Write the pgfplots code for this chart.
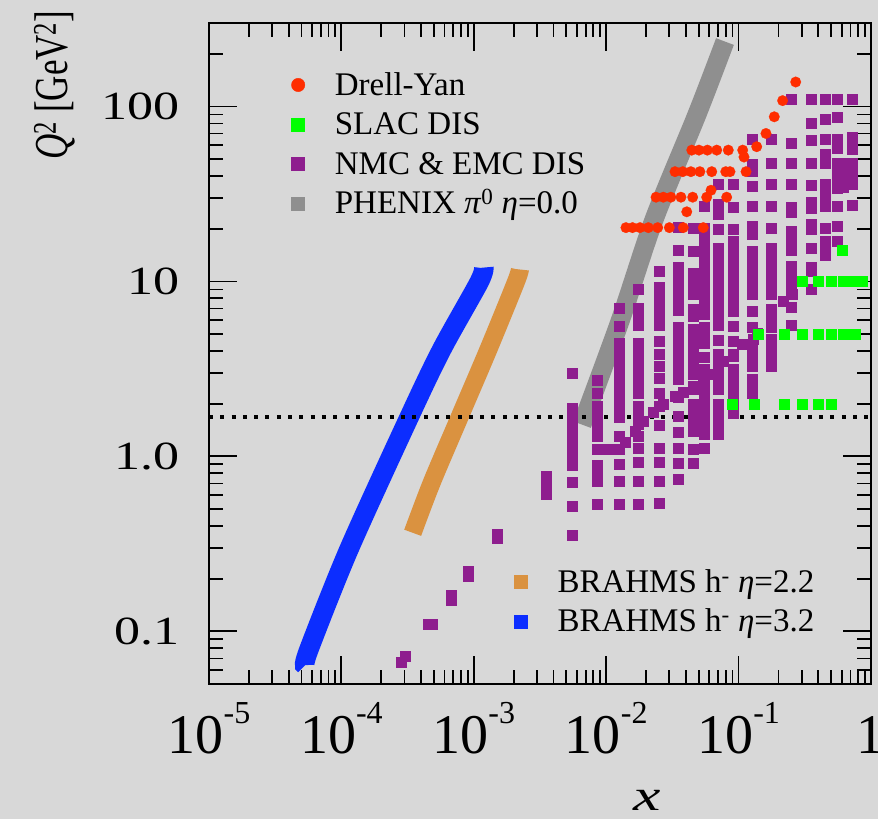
\documentclass[border=0pt]{standalone}
\usepackage{fontspec}
\setmainfont{Liberation Serif}
\usepackage{graphicx}
\usepackage{pgfplots}
\pgfplotsset{compat=1.18}

\definecolor{bgcol}{RGB}{216,216,216}
\definecolor{dyred}{RGB}{255,45,0}
\definecolor{slacgreen}{RGB}{0,255,0}
\definecolor{nmcpurple}{RGB}{142,30,142}
\definecolor{phgray}{RGB}{143,143,143}
\definecolor{brorange}{RGB}{218,146,64}
\definecolor{brblue}{RGB}{12,45,255}

\newcommand{\tsup}[1]{\raisebox{30pt}{\fontsize{32}{32}\selectfont #1}}

\begin{document}
\begin{tikzpicture}
\fill[bgcol] (-209pt,-135pt) rectangle (669pt,684pt);

% ---------- BRAHMS bands (own legend, lower right) ----------
\begin{axis}[xmode=log, ymode=log,
  xmin=1e-5, xmax=1, ymin=0.05, ymax=300,
  scale only axis, width=662pt, height=661pt,
  at={(0pt,0pt)}, anchor=south west,
  hide axis,
  legend cell align=left,
  legend style={draw=none, fill=none, inner sep=0pt, outer sep=0pt,
    font=\fontsize{33}{33}\selectfont,
    nodes={inner sep=0pt, text height=26pt, text depth=5pt},
    row sep=8.5pt,
    /tikz/every odd column/.append style={column sep=30pt},
    at={(axis description cs:0.4615,0.1778)}, anchor=north west},
]
\addplot[brorange, line width=18pt, smooth, no marks, forget plot] coordinates {
(3.455e-4,0.366) (4.81e-4,0.708) (7.87e-4,1.70) (1.29e-3,4.09) (2.07e-3,9.83) (2.23e-3,11.7)};
\addplot[brblue, line width=19.5pt, smooth, no marks, forget plot] coordinates {
(5.31e-5,0.0639) (5.69e-5,0.0789) (1.14e-4,0.294) (3.28e-4,1.70) (5.73e-4,4.09) (1.094e-3,9.87) (1.19e-3,12.0)};
\addlegendimage{only marks, mark=square*, color=brorange, mark size=6.5pt}
\addlegendentry{BRAHMS h\textsuperscript{-} \textit{η}=2.2}
\addlegendimage{only marks, mark=square*, color=brblue, mark size=6.5pt}
\addlegendentry{BRAHMS h\textsuperscript{-} \textit{η}=3.2}
\end{axis}

% ---------- main axis ----------
\begin{axis}[xmode=log, ymode=log,
  xmin=1e-5, xmax=1, ymin=0.05, ymax=300,
  scale only axis, width=662pt, height=661pt,
  at={(0pt,0pt)}, anchor=south west,
  legend cell align=left,
  legend style={draw=none, fill=none, inner sep=0pt, outer sep=0pt,
    font=\fontsize{33}{33}\selectfont,
    nodes={inner sep=0pt, text height=26pt, text depth=5pt},
    row sep=8.5pt,
    /tikz/every odd column/.append style={column sep=30pt},
    at={(axis description cs:0.1246,0.9297)}, anchor=north west},
  axis line style={line width=1.8pt, black},
  tick style={line width=1.8pt, black},
  tick align=inside, xtick pos=both, ytick pos=both,
  major tick length=28pt, minor tick length=14pt,
  xtick={1e-5,1e-4,1e-3,1e-2,1e-1,1},
  xticklabels={10\tsup{-5},10\tsup{-4},10\tsup{-3},10\tsup{-2},10\tsup{-1},1},
  minor xtick={2e-5,3e-5,4e-5,5e-5,6e-5,7e-5,8e-5,9e-5,2e-4,3e-4,4e-4,5e-4,6e-4,7e-4,8e-4,9e-4,0.002,0.003,0.004,0.005,0.006,0.007,0.008,0.009,0.02,0.03,0.04,0.05,0.06,0.07,0.08,0.09,0.2,0.3,0.4,0.5,0.6,0.7,0.8,0.9},
  ytick={0.1,1,10,100},
  yticklabels={\scalebox{1.3}[1]{0.1},\scalebox{1.3}[1]{1.0},\scalebox{1.3}[1]{10},\scalebox{1.3}[1]{100}},
  minor ytick={0.06,0.07,0.08,0.09,0.2,0.3,0.4,0.5,0.6,0.7,0.8,0.9,2,3,4,5,6,7,8,9,20,30,40,50,60,70,80,90,200},
  xticklabel style={font=\fontsize{56}{56}\selectfont, inner sep=0pt, text height=52pt, text depth=0pt, anchor=north, yshift=-17pt},
  yticklabel style={font=\fontsize{40}{40}\selectfont, inner sep=0pt, anchor=east, xshift=-29pt},
  xlabel={\scalebox{1.4}[1]{\textit{x}}},
  xlabel style={font=\fontsize{44}{44}\selectfont, at={(axis description cs:0.6616,-0.1755)}, anchor=center, inner sep=0pt},
  ylabel={\scalebox{1}[1.35]{\textit{Q}\textsuperscript{2} [GeV\textsuperscript{2}]}},
  ylabel style={font=\fontsize{35}{35}\selectfont, at={(axis description cs:-0.233,0.906)}, anchor=center, inner sep=0pt},
]
% PHENIX band
\addplot[phgray, line width=19pt, smooth, no marks, forget plot] coordinates {
(0.00656,1.52) (0.0127,5.91) (0.0230,22.6) (0.0485,90.0) (0.0789,235)};

% NMC & EMC DIS
\addplot[only marks, mark=square*, color=nmcpurple, mark size=5pt, mark options={line width=0.2pt}, forget plot] coordinates {
(2.81e-4,0.0668) (3.02e-4,0.0722) (4.51e-4,0.1096) (4.83e-4,0.1096) (6.73e-4,0.150) (6.73e-4,0.162)
(9.04e-4,0.207) (9.04e-4,0.222) (1.50e-3,0.340) (1.50e-3,0.360)
(3.51e-3,0.770) (3.51e-3,0.700) (3.51e-3,0.607)
(5.52e-3,3.0) (5.52e-3,1.9) (5.52e-3,1.778) (5.52e-3,1.585) (5.52e-3,1.413) (5.52e-3,1.259) (5.52e-3,1.122) (5.52e-3,1.0) (5.52e-3,0.891) (5.52e-3,0.713) (5.52e-3,0.52) (5.52e-3,0.355)
(8.53e-3,2.72) (8.53e-3,2.31) (8.53e-3,1.93) (8.53e-3,1.778) (8.53e-3,1.585) (8.53e-3,1.413) (8.53e-3,1.30) (8.53e-3,1.096) (8.53e-3,0.891) (8.53e-3,0.794) (8.53e-3,0.72) (8.53e-3,0.532)
(0.0125,7.08) (0.0125,5.55) (0.0125,4.467) (0.0125,3.981) (0.0125,3.548) (0.0125,3.162) (0.0125,2.818) (0.0125,2.512) (0.0125,2.239) (0.0125,1.995) (0.0125,1.778) (0.0125,1.67) (0.0125,1.30) (0.0125,1.096) (0.0125,0.90) (0.0125,0.722) (0.0125,0.532)
(0.0174,9.0) (0.0174,7.079) (0.0174,6.31) (0.0174,5.623) (0.0174,4.467) (0.0174,3.981) (0.0174,3.548) (0.0174,3.162) (0.0174,2.818) (0.0174,2.512) (0.0174,2.3) (0.0174,1.94) (0.0174,1.778) (0.0174,1.585) (0.0174,1.52) (0.0174,1.31) (0.0174,1.12) (0.0174,0.93) (0.0174,0.722) (0.0174,0.532)
(0.0251,11.5) (0.0251,9.24) (0.0251,8.913) (0.0251,7.943) (0.0251,7.079) (0.0251,6.31) (0.0251,5.623) (0.0251,4.56) (0.0251,3.83) (0.0251,3.28) (0.0251,2.82) (0.0251,2.31) (0.0251,1.94) (0.0251,1.50) (0.0251,1.12) (0.0251,0.93) (0.0251,0.722) (0.0251,0.544)
(0.0348,20.4) (0.0348,15.2) (0.0348,12.0) (0.0348,11.22) (0.0348,10) (0.0348,8.913) (0.0348,7.943) (0.0348,7.079) (0.0348,6.83) (0.0348,5.46) (0.0348,5.012) (0.0348,4.467) (0.0348,3.981) (0.0348,3.548) (0.0348,3.21) (0.0348,2.75) (0.0348,2.17) (0.0348,1.70) (0.0348,1.38) (0.0348,1.11) (0.0348,0.92) (0.0348,0.739)
(0.0453,20.3) (0.0453,14.9) (0.0453,11.22) (0.0453,10) (0.0453,8.913) (0.0453,8.43) (0.0453,6.92) (0.0453,6.33) (0.0453,5.32) (0.0453,5.012) (0.0453,4.467) (0.0453,3.981) (0.0453,3.548) (0.0453,3.162) (0.0453,2.94) (0.0453,2.41) (0.0453,1.98) (0.0453,1.778) (0.0453,1.585) (0.0453,1.39) (0.0453,1.096) (0.0453,0.92)
(0.0548,26.9) (0.0548,20.3) (0.0548,17.4) (0.0548,15.2) (0.0548,14.13) (0.0548,12.59) (0.0548,12.0) (0.0548,11.22) (0.0548,10) (0.0548,8.913) (0.0548,7.943) (0.0548,7.079) (0.0548,6.47) (0.0548,5.46) (0.0548,5.012) (0.0548,4.467) (0.0548,3.68) (0.0548,3.162) (0.0548,2.818) (0.0548,2.512) (0.0548,2.239) (0.0548,1.995) (0.0548,1.778) (0.0548,1.585) (0.0548,1.413) (0.0548,1.34) (0.0548,1.12)
(0.0698,36.2) (0.0698,27.5) (0.0698,24.2) (0.0698,19.8) (0.0698,15.6) (0.0698,14.13) (0.0698,12.59) (0.0698,11.22) (0.0698,10) (0.0698,8.913) (0.0698,7.943) (0.0698,7.079) (0.0698,6.31) (0.0698,5.623) (0.0698,4.6) (0.0698,3.83) (0.0698,3.548) (0.0698,3.162) (0.0698,2.818) (0.0698,2.512) (0.0698,2.41) (0.0698,1.98) (0.0698,1.778) (0.0698,1.585) (0.0698,1.413) (0.0698,1.34)
(0.0908,36.2) (0.0908,26.5) (0.0908,19.8) (0.0908,16.9) (0.0908,15.85) (0.0908,14.13) (0.0908,12.59) (0.0908,11.22) (0.0908,10) (0.0908,8.913) (0.0908,7.943) (0.0908,7.079) (0.0908,6.77) (0.0908,5.53) (0.0908,4.54) (0.0908,3.73) (0.0908,3.162) (0.0908,2.818) (0.0908,2.512) (0.0908,2.239) (0.0908,1.995) (0.0908,1.778)
(0.126,65.3) (0.126,46.6) (0.126,42.5) (0.126,35.0) (0.126,26.9) (0.126,20.7) (0.126,18.6) (0.126,15.0) (0.126,14.13) (0.126,12.59) (0.126,11.22) (0.126,10) (0.126,8.913) (0.126,8.43) (0.126,6.77) (0.126,5.46) (0.126,4.37) (0.126,3.981) (0.126,3.548) (0.126,3.28) (0.126,2.75) (0.126,2.512) (0.126,2.31)
(0.176,65.3) (0.176,47.7) (0.176,35.8) (0.176,26.9) (0.176,20.3) (0.176,15.6) (0.176,14.13) (0.176,12.59) (0.176,11.22) (0.176,10) (0.176,8.913) (0.176,8.43) (0.176,6.92) (0.176,6.31) (0.176,5.46) (0.176,4.66) (0.176,4.467) (0.176,3.981) (0.176,3.548) (0.176,3.28)
(0.249,109.6) (0.249,62.1) (0.249,47.7) (0.249,35.8) (0.249,26.5) (0.249,24.8) (0.249,19.4) (0.249,17.78) (0.249,15.85) (0.249,15.2) (0.249,12.2) (0.249,11.22) (0.249,10) (0.249,8.913) (0.249,8.43) (0.249,7.1) (0.249,5.66)
(0.352,109.6) (0.352,80.7) (0.352,63.9) (0.352,47.7) (0.352,35.4) (0.352,28.3) (0.352,26.4) (0.352,21.4) (0.352,19.95) (0.352,15.6) (0.352,12.0) (0.352,11.4) (0.352,9.08)
(0.450,109.6) (0.450,84.3) (0.450,64.8) (0.450,53.2) (0.450,47.7) (0.450,35.8) (0.450,31.62) (0.450,28.18) (0.450,26.9) (0.450,20.3) (0.450,17.0) (0.450,15.85) (0.450,14.13)
(0.553,109.6) (0.553,86.9) (0.553,64.8) (0.553,58.1) (0.553,47.7) (0.553,44.67) (0.553,39.81) (0.553,35.48) (0.553,34.3) (0.553,26.9) (0.553,20.7) (0.553,17.0)
(0.615,47.7) (0.615,42.5) (0.615,38.3) (0.615,34.4)
(0.718,109.6) (0.718,66.5) (0.718,59.8) (0.718,56.8) (0.718,47.7) (0.718,46.6) (0.718,42.5) (0.718,39.81) (0.718,36.6) (0.718,35.8) (0.718,27.2)
(0.01033,1.096) (0.01132,1.107) (0.01387,1.207) (0.01652,1.395) (0.01905,1.591) (0.0227,1.791) (0.0270,1.982) (0.0331,2.21) (0.0382,2.33) (0.0455,2.52) (0.0541,2.72) (0.0644,2.94) (0.0766,3.50) (0.0912,3.86) (0.1054,4.37) (0.129,4.66) (0.137,5.09) (0.218,7.71) (0.252,8.43)
};

% SLAC DIS
\addplot[only marks, mark=square*, color=slacgreen, mark size=5pt, mark options={line width=0.2pt}, forget plot] coordinates {
(0.301,10.0) (0.398,10.0) (0.499,10.0) (0.615,10.0) (0.683,10.0) (0.757,10.0) (0.855,10.0)
(0.140,5.02) (0.220,5.02) (0.301,5.02) (0.398,5.02) (0.499,5.02) (0.615,5.02) (0.683,5.02) (0.757,5.02)
(0.0891,2.0) (0.1306,2.0) (0.220,2.0) (0.301,2.0) (0.398,2.0) (0.499,2.0)
(0.61,15.1)
};

% Drell-Yan
\addplot[only marks, mark=*, color=dyred, mark size=5.3pt, mark options={line width=0.2pt}, forget plot] coordinates {
(0.0141,20.3) (0.0158,20.3) (0.0180,20.3) (0.0208,20.3) (0.0245,20.3) (0.0300,20.3) (0.0382,20.3) (0.0541,20.3)
(0.0238,30.3) (0.0270,30.3) (0.0308,30.3) (0.0367,30.3) (0.0450,30.3) (0.0574,30.3) (0.0813,30.3)
(0.0619,33.2) (0.0406,25.0)
(0.0331,42.4) (0.0379,42.4) (0.0436,42.4) (0.0510,42.4) (0.0627,42.4) (0.0800,42.4) (0.0861,42.4) (0.1138,42.4)
(0.0443,56.3) (0.0502,56.3) (0.0581,56.3) (0.0684,56.3) (0.0836,56.3) (0.1074,56.3)
(0.1099,51.4) (0.137,58.9) (0.161,70.1) (0.186,87.3) (0.215,108) (0.270,138)
};

% Q^2 cut
\addplot[black, line width=4pt, dash pattern=on 4pt off 7.3pt, no marks, forget plot] coordinates {(1e-5,1.69) (1,1.69)};

\addlegendimage{only marks, mark=*, color=dyred, mark size=6.7pt}
\addlegendentry{Drell-Yan}
\addlegendimage{only marks, mark=square*, color=slacgreen, mark size=6.5pt}
\addlegendentry{SLAC DIS}
\addlegendimage{only marks, mark=square*, color=nmcpurple, mark size=6.5pt}
\addlegendentry{NMC \& EMC DIS}
\addlegendimage{only marks, mark=square*, color=phgray, mark size=6.5pt}
\addlegendentry{PHENIX \textit{π}\textsuperscript{0} \textit{η}=0.0}
\end{axis}

\pgfresetboundingbox
\path[use as bounding box] (-209pt,-135pt) rectangle (669pt,684pt);
\end{tikzpicture}
\end{document}
